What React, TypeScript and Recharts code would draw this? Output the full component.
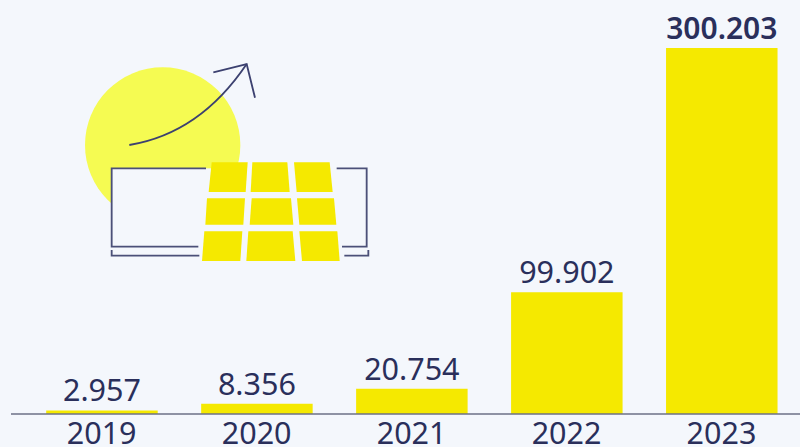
import React from 'react';
import { BarChart, Bar, XAxis, YAxis, LabelList } from 'recharts';

const years = ['2019', '2020', '2021', '2022', '2023'];
const installs = [2957, 8356, 20754, 99902, 300203];

const chartData = years.map((year, i) => ({ year, installs: installs[i] }));

const NAVY = '#2a2f5b';
const YELLOW = '#f5e900';
const BG = '#f4f7fc';
const FONT = '"Noto Sans", sans-serif';

// Solar panel cells, in the illustration's own 930x660 box
const panelCells = [
  '425,337 533,337 527,426 416,426',
  '547,337 652,337 659,426 542,426',
  '672,337 779,337 788,426 680,426',
  '411,445 525,445 520,524 406,524',
  '545,445 663,445 670,524 539,524',
  '681,445 792,445 799,524 688,524',
  '403,544 517,544 511,633 396,633',
  '535,544 668,544 676,633 529,633',
  '688,544 802,544 809,633 696,633',
];

const Illustration = () => (
  <svg
    viewBox="0 0 930 660"
    width={310}
    height={220}
    style={{ position: 'absolute', left: 70, top: 50 }}
  >
    <circle cx={278} cy={285} r={233} fill="#f5fb52" />
    <rect x={125} y={355} width={765} height={235} fill={BG} />
    <g fill="none" stroke="#4b5078" strokeWidth={5.5}>
      <path d="M408 355H125V590H385" />
      <path d="M800 355H890V590H816" />
      <path d="M125 600V617H388" />
      <path d="M823 617H895V600" />
    </g>
    {panelCells.map((points) => (
      <polygon key={points} points={points} fill={YELLOW} />
    ))}
    <g fill="none" stroke="#3c4170" strokeWidth={5.5}>
      <path d="M178 285Q390 250 530 42" />
      <path d="M430 67L530 42L555 143" />
    </g>
  </svg>
);

const ValueLabel = (props: any) => {
  const { x, y, width, value } = props;
  const isTop = value === Math.max(...installs);
  return (
    <text
      x={x + width / 2}
      y={y - 9}
      textAnchor="middle"
      fill={NAVY}
      fontFamily={FONT}
      fontSize={isTop ? 30 : 30.5}
      fontWeight={isTop ? 600 : 400}
    >
      {value.toLocaleString('de-DE')}
    </text>
  );
};

export default function App() {
  return (
    <div style={{ position: 'absolute', left: 0, top: 0, width: 800, height: 447, background: BG, overflow: 'hidden' }}>
      <BarChart
        width={800}
        height={447}
        data={chartData}
        margin={{ top: 48, right: 0, bottom: 0, left: 11 }}
        barSize={111.5}
      >
        <XAxis
          dataKey="year"
          height={33}
          padding={{ left: 13.2, right: 1 }}
          tickLine={false}
          axisLine={{ stroke: '#6d7187', strokeWidth: 1.5 }}
          interval={0}
          tick={{ fill: NAVY, fontSize: 30.5, fontFamily: FONT }}
          tickMargin={2}
        />
        <YAxis hide domain={[0, 300203]} />
        <Bar dataKey="installs" fill={YELLOW} isAnimationActive={false}>
          <LabelList dataKey="installs" content={<ValueLabel />} />
        </Bar>
      </BarChart>
      <Illustration />
    </div>
  );
}
